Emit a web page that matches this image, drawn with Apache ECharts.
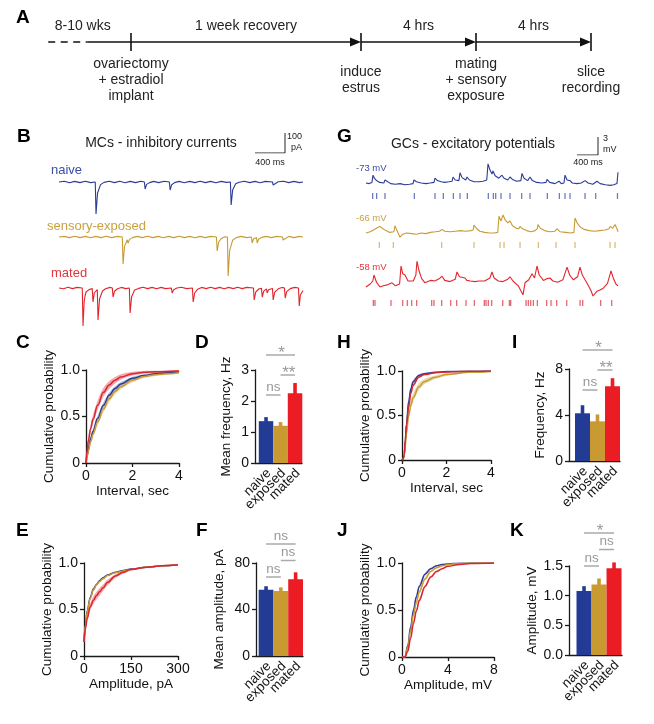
<!DOCTYPE html>
<html><head><meta charset="utf-8">
<script src="https://cdn.jsdelivr.net/npm/echarts@6/dist/echarts.min.js"></script>
<style>html,body{margin:0;padding:0;background:#fff}#c{width:654px;height:724px}</style>
</head><body><div id="c"></div><script>
// ================= DATA =================
const groups = ['naive', 'exposed', 'mated'];

// Panel A: schematic timeline (schematic units)
const stagePos = [0, 2, 3, 4];
const stageLabels = ['ovariectomy\n+ estradiol\nimplant', 'induce\nestrus', 'mating\n+ sensory\nexposure', 'slice\nrecording'];
const intervalPos = [-0.42, 1, 2.5, 3.5];
const intervalLabels = ['8-10 wks', '1 week recovery', '4 hrs', '4 hrs'];
const leadInDashed = [[-0.72, -0.38]];
const timelineSegments = [[-0.38, 0, 0], [0, 2, 1], [2, 3, 1], [3, 4, 1]]; // [from, to, arrow]

// Panel B: MC inhibitory current traces [time ms, current pA]
const mcNaiveTrace = [[0,0],[70,4],[140,-4],[210,3],[280,-3],[350,4],[420,-3],[483,0],[493,-160],[513,-56],[553,-13],[600,-2],[670,4],[740,-3],[810,4],[880,-4],[950,3],[1020,-3],[1090,4],[1137,0],[1147,-35],[1167,-12],[1207,-3],[1260,3],[1330,-3],[1400,4],[1470,0],[1480,-40],[1500,-14],[1540,-3],[1600,3],[1670,-4],[1740,3],[1810,-3],[1880,4],[1950,-3],[2020,3],[2090,-4],[2160,3],[2230,-2],[2283,0],[2293,-115],[2313,-40],[2353,-9],[2400,-1],[2470,4],[2540,-3],[2610,3],[2680,-4],[2750,3],[2843,0],[2853,-15],[2873,-5],[2920,1],[2990,4],[3060,-3],[3130,3],[3200,-3],[3250,0]];
const mcExposedTrace = [[0,0],[70,3],[140,-3],[210,4],[280,-3],[350,3],[420,-4],[490,3],[560,-3],[630,4],[700,-3],[780,3],[843,0],[853,-135],[873,-47],[910,-14],[920,-30],[940,-12],[980,-3],[1040,3],[1110,-3],[1180,4],[1250,-3],[1320,3],[1390,-4],[1460,3],[1530,-3],[1600,4],[1670,-3],[1740,3],[1810,-4],[1880,3],[1950,-3],[2020,3],[2097,0],[2107,-70],[2127,-25],[2167,-6],[2210,1],[2243,0],[2253,-195],[2273,-68],[2313,-16],[2360,-3],[2430,3],[2500,-3],[2563,0],[2573,-30],[2590,-10],[2630,-3],[2640,-30],[2660,-10],[2700,-2],[2760,3],[2830,-3],[2900,3],[2977,0],[2987,-15],[3007,-5],[3060,3],[3130,-3],[3200,3],[3250,0]];
const mcMatedTrace = [[0,0],[60,-4],[120,4],[180,-3],[240,3],[310,0],[320,-190],[335,-70],[347,-40],[360,-20],[400,-8],[443,-3],[453,-70],[470,-25],[510,-8],[520,-160],[540,-55],[580,-15],[620,-4],[680,3],[710,0],[720,-45],[740,-16],[780,-4],[830,3],[890,-3],[937,0],[947,-125],[967,-44],[1007,-10],[1060,-2],[1120,4],[1180,-3],[1240,3],[1300,-4],[1360,3],[1420,-3],[1497,0],[1507,-25],[1527,-9],[1570,0],[1630,4],[1700,-3],[1777,0],[1787,-70],[1807,-25],[1847,-6],[1900,3],[1960,-3],[2020,4],[2080,-3],[2140,3],[2200,-4],[2260,3],[2320,-3],[2380,4],[2440,-3],[2500,3],[2590,0],[2600,-60],[2620,-21],[2660,-5],[2697,-2],[2707,-45],[2727,-16],[2763,-4],[2773,-25],[2790,-9],[2843,-2],[2853,-60],[2873,-21],[2920,-4],[2970,3],[3003,0],[3013,-50],[3033,-18],[3080,-3],[3140,3],[3190,0],[3200,-90],[3215,-35],[3250,-12]];

// Panel G: GC membrane potential traces [time ms, mV]
const gcNaiveTrace = [[0,-73.0],[60,-73.1],[113,-72.9],[133,-71.7],[160,-72.2],[200,-72.6],[260,-72.9],[340,-73.0],[362,-72.5],[400,-72.8],[470,-73.1],[560,-73.2],[650,-73.1],[740,-73.3],[830,-73.2],[895,-73.1],[914,-72.5],[960,-72.8],[1050,-73.0],[1140,-73.1],[1220,-73.0],[1295,-72.9],[1314,-72.2],[1360,-72.6],[1430,-72.8],[1500,-72.9],[1580,-72.8],[1640,-72.7],[1657,-72.0],[1700,-72.5],[1770,-72.6],[1790,-71.3],[1830,-72.1],[1900,-72.5],[1924,-72.0],[1970,-72.5],[2060,-72.8],[2150,-72.8],[2230,-72.7],[2300,-72.5],[2324,-69.8],[2360,-70.8],[2400,-71.5],[2419,-71.0],[2460,-71.8],[2530,-72.2],[2590,-71.7],[2630,-72.2],[2700,-72.5],[2743,-72.0],[2790,-72.4],[2870,-72.7],[2950,-72.6],[2971,-71.4],[3010,-72.2],[3080,-72.6],[3124,-72.0],[3170,-72.6],[3250,-72.9],[3350,-73.0],[3430,-72.9],[3448,-72.4],[3500,-72.9],[3600,-73.1],[3677,-72.7],[3720,-73.1],[3770,-73.0],[3791,-71.7],[3830,-72.5],[3886,-72.6],[3930,-73.0],[4020,-73.1],[4100,-73.0],[4172,-72.6],[4230,-73.0],[4320,-73.2],[4400,-72.7],[4460,-73.1],[4560,-73.3],[4650,-73.4],[4720,-73.3],[4780,-73.1],[4800,-71.2]];
const gcExposedTrace = [[0,-66.0],[80,-65.8],[160,-65.4],[220,-65.1],[267,-64.9],[310,-65.2],[380,-65.6],[450,-65.9],[530,-65.8],[552,-64.8],[590,-65.6],[648,-66.7],[700,-66.2],[780,-66.0],[870,-66.1],[960,-66.2],[1050,-66.0],[1140,-66.1],[1230,-65.9],[1320,-65.8],[1400,-65.7],[1448,-65.4],[1500,-65.7],[1600,-65.8],[1700,-65.7],[1800,-65.6],[1900,-65.7],[2000,-65.6],[2040,-65.5],[2057,-64.7],[2100,-65.2],[2170,-65.7],[2260,-65.9],[2350,-66.0],[2440,-66.0],[2510,-65.9],[2533,-63.2],[2570,-64.0],[2610,-63.0],[2650,-63.8],[2700,-64.3],[2743,-64.0],[2790,-64.8],[2860,-65.2],[2910,-65.3],[2933,-64.9],[2980,-65.3],[3060,-65.6],[3140,-65.8],[3220,-65.6],[3260,-65.3],[3276,-64.6],[3320,-65.2],[3400,-65.6],[3500,-65.8],[3600,-65.7],[3638,-65.3],[3700,-65.8],[3800,-65.9],[3900,-66.0],[3960,-65.9],[3981,-63.5],[4020,-64.3],[4080,-65.0],[4160,-65.4],[4250,-65.6],[4350,-65.7],[4450,-65.6],[4550,-65.5],[4630,-65.3],[4648,-64.9],[4700,-65.2],[4743,-64.6],[4780,-65.3],[4800,-65.8]];
const gcMatedTrace = [[0,-58.0],[80,-57.5],[130,-57.0],[152,-56.0],[200,-57.2],[267,-58.0],[330,-57.8],[420,-57.6],[495,-57.3],[560,-57.8],[640,-57.5],[667,-54.5],[700,-55.8],[743,-56.0],[800,-57.0],[838,-57.3],[900,-57.0],[950,-56.0],[971,-53.7],[1010,-55.3],[1060,-56.6],[1124,-57.3],[1200,-57.0],[1240,-56.9],[1257,-56.6],[1310,-57.0],[1400,-56.6],[1448,-56.2],[1500,-56.9],[1600,-57.1],[1700,-56.7],[1733,-55.5],[1780,-56.3],[1886,-56.5],[1920,-56.9],[1990,-57.0],[2076,-57.1],[2150,-57.0],[2260,-57.0],[2360,-56.5],[2400,-55.5],[2440,-56.5],[2520,-57.0],[2610,-57.1],[2700,-56.7],[2743,-56.3],[2800,-57.0],[2900,-57.8],[2990,-59.3],[3029,-57.3],[3100,-56.8],[3162,-55.8],[3210,-56.5],[3257,-54.5],[3300,-56.0],[3380,-56.9],[3450,-56.6],[3505,-56.5],[3560,-57.0],[3650,-57.2],[3750,-56.8],[3829,-54.7],[3880,-56.0],[3950,-56.8],[4030,-56.3],[4076,-54.7],[4120,-56.0],[4200,-57.2],[4280,-58.5],[4324,-59.5],[4400,-58.7],[4457,-58.5],[4520,-58.2],[4600,-57.4],[4667,-55.3],[4710,-56.5],[4760,-57.5],[4800,-57.8]];
// detected event times (ms)
const gcNaiveEvents = [127,203,362,921,1314,1473,1664,1791,1930,2330,2426,2470,2572,2743,2965,3124,3454,3683,3791,3886,4172,4375,4790];
const gcExposedEvents = [254,521,1441,2057,2553,2629,2934,3283,3620,3981,4648,4743];
const gcMatedEvents = [140,171,476,699,787,870,965,1251,1295,1441,1613,1727,1905,2064,2254,2286,2330,2394,2604,2731,2756,3048,3092,3137,3188,3264,3441,3524,3632,3823,4077,4128,4470,4680];

// Scale bars
const mcScaleBar = [400, 100];  // ms, pA
const gcScaleBar = [400, 3];    // ms, mV

// Panel C: MC inter-event interval CDF
const cX = [0, 0.05, 0.1, 0.2, 0.3, 0.5, 0.75, 1, 1.25, 1.5, 2, 2.5, 3, 3.5, 4];
const cNaive   = [0, 0.08, 0.15, 0.26, 0.34, 0.48, 0.62, 0.73, 0.80, 0.85, 0.91, 0.94, 0.96, 0.97, 0.98];
const cExposed = [0, 0.07, 0.13, 0.23, 0.31, 0.44, 0.58, 0.69, 0.77, 0.82, 0.89, 0.93, 0.95, 0.96, 0.97];
const cMated   = [0, 0.14, 0.24, 0.37, 0.47, 0.62, 0.76, 0.84, 0.89, 0.925, 0.96, 0.975, 0.98, 0.985, 0.99];
const cNaiveSem   = [0, 0.015, 0.025, 0.03, 0.03, 0.032, 0.032, 0.03, 0.026, 0.022, 0.018, 0.014, 0.012, 0.01, 0.008];
const cExposedSem = [0, 0.015, 0.025, 0.03, 0.035, 0.038, 0.038, 0.035, 0.03, 0.027, 0.022, 0.017, 0.014, 0.012, 0.01];
const cMatedSem   = [0, 0.025, 0.04, 0.045, 0.048, 0.05, 0.048, 0.042, 0.035, 0.028, 0.02, 0.015, 0.012, 0.01, 0.008];

// Panel D: MC mean frequency (Hz)
const mcFreqMean = [1.35, 1.2, 2.25];
const mcFreqSem = [0.13, 0.12, 0.33];
const mcFreqSig = [[0, 1, 0], [1, 2, 1], [0, 2, 2]];
const mcFreqSigText = ['ns', '**', '*'];

// Panel E: MC amplitude CDF
const eX = [0, 5, 10, 20, 30, 40, 50, 60, 75, 100, 125, 150, 200, 250, 300];
const eNaive   = [0.15, 0.35, 0.48, 0.63, 0.72, 0.77, 0.81, 0.84, 0.87, 0.90, 0.92, 0.935, 0.955, 0.97, 0.98];
const eExposed = [0.15, 0.34, 0.47, 0.62, 0.71, 0.765, 0.80, 0.83, 0.865, 0.895, 0.915, 0.93, 0.955, 0.97, 0.98];
const eMated   = [0.15, 0.30, 0.40, 0.53, 0.60, 0.65, 0.69, 0.73, 0.79, 0.86, 0.90, 0.93, 0.955, 0.97, 0.98];
const eNaiveSem   = [0, 0.01, 0.015, 0.015, 0.015, 0.012, 0.01, 0.01, 0.008, 0.006, 0.005, 0.004, 0.003, 0.002, 0.002];
const eExposedSem = [0, 0.01, 0.015, 0.015, 0.015, 0.012, 0.01, 0.01, 0.008, 0.006, 0.005, 0.004, 0.003, 0.002, 0.002];
const eMatedSem   = [0, 0.02, 0.03, 0.035, 0.04, 0.04, 0.04, 0.035, 0.03, 0.02, 0.015, 0.01, 0.006, 0.004, 0.003];

// Panel F: MC mean amplitude (pA)
const mcAmpMean = [57, 56, 66];
const mcAmpSem = [3, 3, 6];
const mcAmpSig = [[0, 1, 0], [1, 2, 1], [0, 2, 2]];
const mcAmpSigText = ['ns', 'ns', 'ns'];

// Panel H: GC interval CDF
const hX = [0, 0.05, 0.1, 0.15, 0.2, 0.3, 0.4, 0.5, 0.75, 1, 1.5, 2, 3, 4];
const hNaive   = [0, 0.01, 0.06, 0.22, 0.40, 0.66, 0.80, 0.88, 0.95, 0.97, 0.985, 0.993, 0.998, 1.0];
const hExposed = [0, 0.01, 0.05, 0.16, 0.30, 0.50, 0.62, 0.70, 0.82, 0.88, 0.93, 0.96, 0.985, 0.995];
const hMated   = [0, 0.01, 0.06, 0.23, 0.39, 0.60, 0.75, 0.84, 0.93, 0.96, 0.98, 0.99, 0.997, 1.0];
const hNaiveSem   = [0, 0.005, 0.02, 0.03, 0.03, 0.03, 0.025, 0.02, 0.012, 0.01, 0.006, 0.004, 0.002, 0];
const hExposedSem = [0, 0.005, 0.02, 0.03, 0.04, 0.05, 0.05, 0.05, 0.04, 0.03, 0.02, 0.015, 0.008, 0.004];
const hMatedSem   = [0, 0.005, 0.02, 0.03, 0.03, 0.03, 0.025, 0.02, 0.012, 0.01, 0.006, 0.004, 0.002, 0];

// Panel I: GC frequency (Hz)
const gcFreqMean = [4.15, 3.45, 6.5];
const gcFreqSem = [0.7, 0.6, 0.7];
const gcFreqSig = [[0, 1, 0], [1, 2, 1], [0, 2, 2]];
const gcFreqSigText = ['ns', '**', '*'];

// Panel J: GC amplitude CDF
const jX = [0, 0.25, 0.5, 0.75, 1, 1.25, 1.5, 2, 2.5, 3, 3.5, 4, 5, 6, 8];
const jNaive   = [0, 0, 0.12, 0.32, 0.50, 0.64, 0.75, 0.88, 0.94, 0.97, 0.985, 0.99, 0.997, 1, 1];
const jExposed = [0, 0, 0.10, 0.28, 0.45, 0.58, 0.69, 0.83, 0.91, 0.95, 0.97, 0.985, 0.995, 1, 1];
const jMated   = [0, 0, 0.06, 0.20, 0.36, 0.49, 0.60, 0.75, 0.85, 0.91, 0.94, 0.965, 0.985, 0.995, 1];
const jNaiveSem   = [0, 0, 0.01, 0.02, 0.025, 0.025, 0.02, 0.015, 0.01, 0.006, 0.004, 0.003, 0.002, 0, 0];
const jExposedSem = [0, 0, 0.01, 0.02, 0.025, 0.025, 0.02, 0.015, 0.01, 0.006, 0.004, 0.003, 0.002, 0, 0];
const jMatedSem   = [0, 0, 0.01, 0.015, 0.02, 0.02, 0.02, 0.015, 0.01, 0.008, 0.005, 0.004, 0.002, 0.001, 0];

// Panel K: GC amplitude (mV)
const gcAmpMean = [1.08, 1.19, 1.46];
const gcAmpSem = [0.08, 0.1, 0.1];
const gcAmpSig = [[0, 1, 0], [1, 2, 1], [0, 2, 2]];
const gcAmpSigText = ['ns', 'ns', '*'];

// ================= STYLE / LAYOUT =================
const FONT = "'Liberation Sans', Arial, Helvetica, sans-serif";
const LINE_C = { naive: '#2b3b97', exposed: '#c79c34', mated: '#d8262e' };
const BAR_C = ['#223c96', '#c99a31', '#ec1c24'];
const BAND_C = { naive: 'rgba(130,145,215,0.6)', exposed: 'rgba(228,200,135,0.7)', mated: 'rgba(240,112,122,0.62)' };
const TICK_C = { naive: '#4a5cb0', exposed: '#d2ad5a', mated: '#e2404a' };
const AXC = { color: '#1a1a1a', width: 1.3 };

const grids = [], xAxis = [], yAxis = [], series = [];
function addGrid(rect) { grids.push(Object.assign({ show: false, outerBoundsMode: 'none', containLabel: false }, rect)); return grids.length - 1; }
function hidden(gi, xr, yr) {
  xAxis.push({ gridIndex: gi, type: 'value', min: xr[0], max: xr[1], show: false });
  yAxis.push({ gridIndex: gi, type: 'value', min: yr[0], max: yr[1], show: false });
}
function labelStyle(extra) { return Object.assign({ color: '#111', fontSize: 14, fontFamily: FONT, margin: 6 }, extra || {}); }
function visAxis(o) {
  return Object.assign({
    type: 'value', nameLocation: 'middle',
    axisLine: { show: true, onZero: false, lineStyle: AXC },
    axisTick: { show: true, length: 4, lineStyle: AXC },
    splitLine: { show: false },
    axisLabel: labelStyle(),
    nameTextStyle: { color: '#111', fontSize: 13.5, fontFamily: FONT }
  }, o);
}

// ---------- Panel A ----------
(function () {
  const gi = addGrid({ left: 48.2, top: 33, width: 542.8, height: 18 });
  hidden(gi, [-0.72, 4], [-1, 1]);
  series.push({
    type: 'custom', xAxisIndex: gi, yAxisIndex: gi, data: leadInDashed, silent: true,
    renderItem: (p, api) => {
      const a = api.coord([api.value(0), 0]), b = api.coord([api.value(1), 0]);
      return { type: 'line', shape: { x1: a[0], y1: a[1], x2: b[0], y2: b[1] }, style: { stroke: '#111', lineWidth: 1.6, lineDash: [7, 5.5] } };
    }
  });
  series.push({
    type: 'custom', xAxisIndex: gi, yAxisIndex: gi, data: timelineSegments, silent: true,
    renderItem: (p, api) => {
      const a = api.coord([api.value(0), 0]), b = api.coord([api.value(1), 0]);
      const ch = [{ type: 'line', shape: { x1: a[0], y1: a[1], x2: b[0] - (api.value(2) ? 6 : 0), y2: b[1] }, style: { stroke: '#111', lineWidth: 1.6 } }];
      if (api.value(2)) ch.push({ type: 'polygon', shape: { points: [[b[0], b[1]], [b[0] - 11, b[1] - 4.5], [b[0] - 11, b[1] + 4.5]] }, style: { fill: '#111' } });
      return { type: 'group', children: ch };
    }
  });
  series.push({
    type: 'custom', xAxisIndex: gi, yAxisIndex: gi, data: stagePos.map(v => [v, 0]), silent: true,
    renderItem: (p, api) => {
      const t = api.coord([api.value(0), 1]), b = api.coord([api.value(0), -1]), m = api.coord([api.value(0), 0]);
      return { type: 'group', children: [
        { type: 'line', shape: { x1: t[0], y1: t[1], x2: b[0], y2: b[1] }, style: { stroke: '#111', lineWidth: 1.6 } },
        { type: 'text', x: m[0], y: m[1] + 38, style: { text: stageLabels[p.dataIndex], fill: '#222', fontSize: 14, fontFamily: FONT, align: 'center', verticalAlign: 'middle', lineHeight: 16 } }
      ] };
    }
  });
  series.push({
    type: 'custom', xAxisIndex: gi, yAxisIndex: gi, data: intervalPos.map(v => [v, 0]), silent: true,
    renderItem: (p, api) => {
      const m = api.coord([api.value(0), 0]);
      return { type: 'text', x: m[0], y: m[1] - 16, style: { text: intervalLabels[p.dataIndex], fill: '#222', fontSize: 14, fontFamily: FONT, align: 'center', verticalAlign: 'middle' } };
    }
  });
})();

// ---------- Traces ----------
function traceGrid(rect, xr, yr, data, color, width) {
  const gi = addGrid(rect); hidden(gi, xr, yr);
  series.push({ type: 'line', xAxisIndex: gi, yAxisIndex: gi, data, symbol: 'none', silent: true, lineStyle: { color, width: width || 1.1 } });
}
function rasterGrid(rect, xr, times, color) {
  const gi = addGrid(rect); hidden(gi, xr, [0, 1]);
  series.push({ type: 'scatter', xAxisIndex: gi, yAxisIndex: gi, data: times.map(t => [t, 0.5]), symbol: 'rect', symbolSize: [1.3, 6], silent: true, itemStyle: { color } });
}
function scaleBar(rect, vals) {
  const gi = addGrid(rect); hidden(gi, [0, vals[0]], [0, vals[1]]);
  series.push({ type: 'line', xAxisIndex: gi, yAxisIndex: gi, data: [[0, 0], [vals[0], 0], [vals[0], vals[1]]], symbol: 'none', silent: true, lineStyle: { color: '#222', width: 1 } });
}
// B
traceGrid({ left: 59, top: 178, width: 244, height: 44 }, [0, 3250], [-200, 20], mcNaiveTrace, LINE_C.naive);
traceGrid({ left: 59, top: 233, width: 244, height: 44 }, [0, 3250], [-200, 20], mcExposedTrace, LINE_C.exposed);
traceGrid({ left: 59, top: 284, width: 244, height: 44 }, [0, 3250], [-200, 20], mcMatedTrace, '#e4252b');
scaleBar({ left: 255, top: 133, width: 30, height: 20 }, mcScaleBar);
// G
traceGrid({ left: 366, top: 159, width: 252, height: 30 }, [0, 4800], [-74, -69], gcNaiveTrace, LINE_C.naive);
traceGrid({ left: 366, top: 209, width: 252, height: 33 }, [0, 4800], [-67.5, -62], gcExposedTrace, LINE_C.exposed);
traceGrid({ left: 366, top: 257, width: 252, height: 42 }, [0, 4800], [-60, -53], gcMatedTrace, '#e4252b');
rasterGrid({ left: 366, top: 193, width: 252, height: 6 }, [0, 4800], gcNaiveEvents, TICK_C.naive);
rasterGrid({ left: 366, top: 242, width: 252, height: 6 }, [0, 4800], gcExposedEvents, TICK_C.exposed);
rasterGrid({ left: 366, top: 300, width: 252, height: 6 }, [0, 4800], gcMatedEvents, TICK_C.mated);
scaleBar({ left: 577, top: 137, width: 21, height: 18 }, gcScaleBar);

// ---------- Cumulative panels ----------
function cumPanel(rect, xr, xInt, xName, yGap, xs, curves) {
  const gi = addGrid(rect);
  xAxis.push(visAxis({ gridIndex: gi, min: xr[0], max: xr[1], interval: xInt, name: xName, nameGap: 21 }));
  yAxis.push(visAxis({ gridIndex: gi, min: 0, max: 1, interval: 0.5, name: 'Cumulative probability', nameGap: yGap,
    axisLabel: labelStyle({ formatter: v => v === 0 ? '0' : v.toFixed(1) }) }));
  ['exposed', 'naive', 'mated'].forEach(k => {
    const c = curves[k];
    series.push({ type: 'custom', xAxisIndex: gi, yAxisIndex: gi, silent: true, z: 1,
      data: [[xs[0], c.mean[0]]],
      renderItem: (p, api) => {
        const up = xs.map((x, i) => api.coord([x, c.mean[i] + c.sem[i]]));
        const lo = xs.map((x, i) => api.coord([x, c.mean[i] - c.sem[i]])).reverse();
        return { type: 'polygon', shape: { points: up.concat(lo), smooth: 0.25 }, style: { fill: BAND_C[k] } };
      } });
  });
  ['naive', 'exposed', 'mated'].forEach(k => {
    const c = curves[k];
    series.push({ type: 'line', xAxisIndex: gi, yAxisIndex: gi, z: 3, data: xs.map((x, i) => [x, c.mean[i]]), symbol: 'none', smooth: 0.4, smoothMonotone: 'x', silent: true, lineStyle: { color: LINE_C[k], width: 1.5 } });
  });
}
cumPanel({ left: 86, top: 370, width: 93, height: 93 }, [0, 4], 2, 'Interval, sec', 30, cX,
  { naive: { mean: cNaive, sem: cNaiveSem }, exposed: { mean: cExposed, sem: cExposedSem }, mated: { mean: cMated, sem: cMatedSem } });
cumPanel({ left: 402, top: 371, width: 89, height: 89 }, [0, 4], 2, 'Interval, sec', 29, hX,
  { naive: { mean: hNaive, sem: hNaiveSem }, exposed: { mean: hExposed, sem: hExposedSem }, mated: { mean: hMated, sem: hMatedSem } });
cumPanel({ left: 84, top: 563, width: 94, height: 93 }, [0, 300], 150, 'Amplitude, pA', 29, eX,
  { naive: { mean: eNaive, sem: eNaiveSem }, exposed: { mean: eExposed, sem: eExposedSem }, mated: { mean: eMated, sem: eMatedSem } });
cumPanel({ left: 402, top: 563, width: 92, height: 94 }, [0, 8], 4, 'Amplitude, mV', 28, jX,
  { naive: { mean: jNaive, sem: jNaiveSem }, exposed: { mean: jExposed, sem: jExposedSem }, mated: { mean: jMated, sem: jMatedSem } });

// ---------- Bar panels ----------
function barPanel(rect, xr, yr, yInt, yName, yGap, yFmt, means, sems, sigRect, sig, sigText) {
  const gi = addGrid(rect);
  const unit = rect.width / (xr[1] - xr[0]);
  xAxis.push(visAxis({ gridIndex: gi, min: xr[0], max: xr[1], axisTick: { show: false }, axisLabel: { show: false } }));
  yAxis.push(visAxis({ gridIndex: gi, min: yr[0], max: yr[1], interval: yInt, name: yName, nameGap: yGap,
    axisLabel: labelStyle({ formatter: yFmt }) }));
  series.push({ type: 'bar', xAxisIndex: gi, yAxisIndex: gi, barWidth: unit, silent: true,
    data: means.map((m, i) => ({ value: [i, m], itemStyle: { color: BAR_C[i] } })) });
  series.push({ type: 'custom', xAxisIndex: gi, yAxisIndex: gi, silent: true, z: 3,
    data: means.map((m, i) => [i, m, m + sems[i]]),
    renderItem: (p, api) => {
      const a = api.coord([api.value(0), api.value(1)]), b = api.coord([api.value(0), api.value(2)]);
      return { type: 'line', shape: { x1: a[0], y1: a[1] + 1, x2: b[0], y2: b[1] }, style: { stroke: BAR_C[p.dataIndex], lineWidth: 3.6 } };
    } });
  // rotated category labels
  series.push({ type: 'custom', xAxisIndex: gi, yAxisIndex: gi, silent: true,
    data: groups.map((g, i) => [i, yr[0]]),
    renderItem: (p, api) => {
      const a = api.coord([api.value(0), api.value(1)]);
      return { type: 'text', x: a[0] + 3, y: a[1] + 8, rotation: Math.PI / 4,
        style: { text: groups[p.dataIndex], fill: '#111', fontSize: 13.5, fontFamily: FONT, align: 'right', verticalAlign: 'middle' } };
    } });
  const si = addGrid(sigRect); hidden(si, xr, [0, 2]);
  series.push({ type: 'custom', xAxisIndex: si, yAxisIndex: si, silent: true, data: sig,
    renderItem: (p, api) => {
      const a = api.coord([api.value(0), api.value(2)]), b = api.coord([api.value(1), api.value(2)]);
      const t = sigText[p.dataIndex]; const star = t.indexOf('*') >= 0;
      return { type: 'group', children: [
        { type: 'line', shape: { x1: a[0], y1: a[1], x2: b[0], y2: b[1] }, style: { stroke: '#aaaaaa', lineWidth: 1.5 } },
        { type: 'text', x: (a[0] + b[0]) / 2 + (star ? 1 : 0), y: a[1] - (star ? 2 : 8), style: { text: t, fill: '#999', fontSize: star ? 17 : 13.5, fontFamily: FONT, align: 'center', verticalAlign: 'middle' } }
      ] };
    } });
}
const intFmt = v => String(v);
const oneDec = v => v.toFixed(1);
barPanel({ left: 255, top: 370, width: 47, height: 93 }, [-0.76, 2.48], [0, 3], 1, 'Mean frequency, Hz', 22, intFmt,
  mcFreqMean, mcFreqSem, { left: 255, width: 47, top: 355, height: 40 }, mcFreqSig, mcFreqSigText);
barPanel({ left: 569, top: 369, width: 51, height: 92 }, [-0.9, 2.5], [0, 8], 4, 'Frequency, Hz', 22, intFmt,
  gcFreqMean, gcFreqSem, { left: 569, width: 51, top: 350, height: 40 }, gcFreqSig, gcFreqSigText);
barPanel({ left: 256, top: 563, width: 47, height: 93 }, [-0.68, 2.5], [0, 80], 40, 'Mean amplitude, pA', 30, intFmt,
  mcAmpMean, mcAmpSem, { left: 256, width: 47, top: 544, height: 33 }, mcAmpSig, mcAmpSigText);
barPanel({ left: 569, top: 566, width: 53, height: 89 }, [-1.0, 2.53], [0, 1.5], 0.5, 'Amplitude, mV', 28, oneDec,
  gcAmpMean, gcAmpSem, { left: 569, width: 53, top: 533, height: 33 }, gcAmpSig, gcAmpSigText);

// ---------- Text ----------
function txt(text, x, y, size, color, align, weight) {
  return { type: 'text', x, y, silent: true, style: { text, fill: color || '#111', font: (weight || 'normal') + ' ' + size + 'px ' + FONT, align: align || 'left', textAlign: align || 'left', verticalAlign: 'middle', textVerticalAlign: 'middle' } };
}
const graphic = [
  txt('A', 16, 18, 19, '#000', 'left', 'bold'),
  txt('B', 17, 137, 19, '#000', 'left', 'bold'),
  txt('G', 337, 137, 19, '#000', 'left', 'bold'),
  txt('C', 16, 343, 19, '#000', 'left', 'bold'),
  txt('D', 195, 343, 19, '#000', 'left', 'bold'),
  txt('H', 337, 343, 19, '#000', 'left', 'bold'),
  txt('I', 512, 343, 19, '#000', 'left', 'bold'),
  txt('E', 16, 531, 19, '#000', 'left', 'bold'),
  txt('F', 196, 531, 19, '#000', 'left', 'bold'),
  txt('J', 337, 531, 19, '#000', 'left', 'bold'),
  txt('K', 510, 531, 19, '#000', 'left', 'bold'),
  txt('MCs - inhibitory currents', 161, 143, 14, '#222', 'center'),
  txt('GCs - excitatory potentials', 473, 144, 14, '#222', 'center'),
  txt('100', 302, 137, 9, '#222', 'right'),
  txt('pA', 302, 148, 9, '#222', 'right'),
  txt('400 ms', 270, 163, 9, '#222', 'center'),
  txt('3', 603, 139, 9, '#222', 'left'),
  txt('mV', 603, 150, 9, '#222', 'left'),
  txt('400 ms', 588, 163, 9, '#222', 'center'),
  txt('naive', 51, 170, 13, '#3b4ea3', 'left'),
  txt('sensory-exposed', 47, 226, 13, '#c9a23f', 'left'),
  txt('mated', 51, 273, 13, '#e2353b', 'left'),
  txt('-73 mV', 356, 168, 9.5, '#3b4ea3', 'left'),
  txt('-66 mV', 356, 218, 9.5, '#c9a23f', 'left'),
  txt('-58 mV', 356, 267, 9.5, '#e2353b', 'left')
];

const chart = echarts.init(document.getElementById('c'), null, { renderer: 'canvas' });
chart.setOption({ animation: false, backgroundColor: '#fff', grid: grids, xAxis, yAxis, series, graphic });
</script></body></html>
